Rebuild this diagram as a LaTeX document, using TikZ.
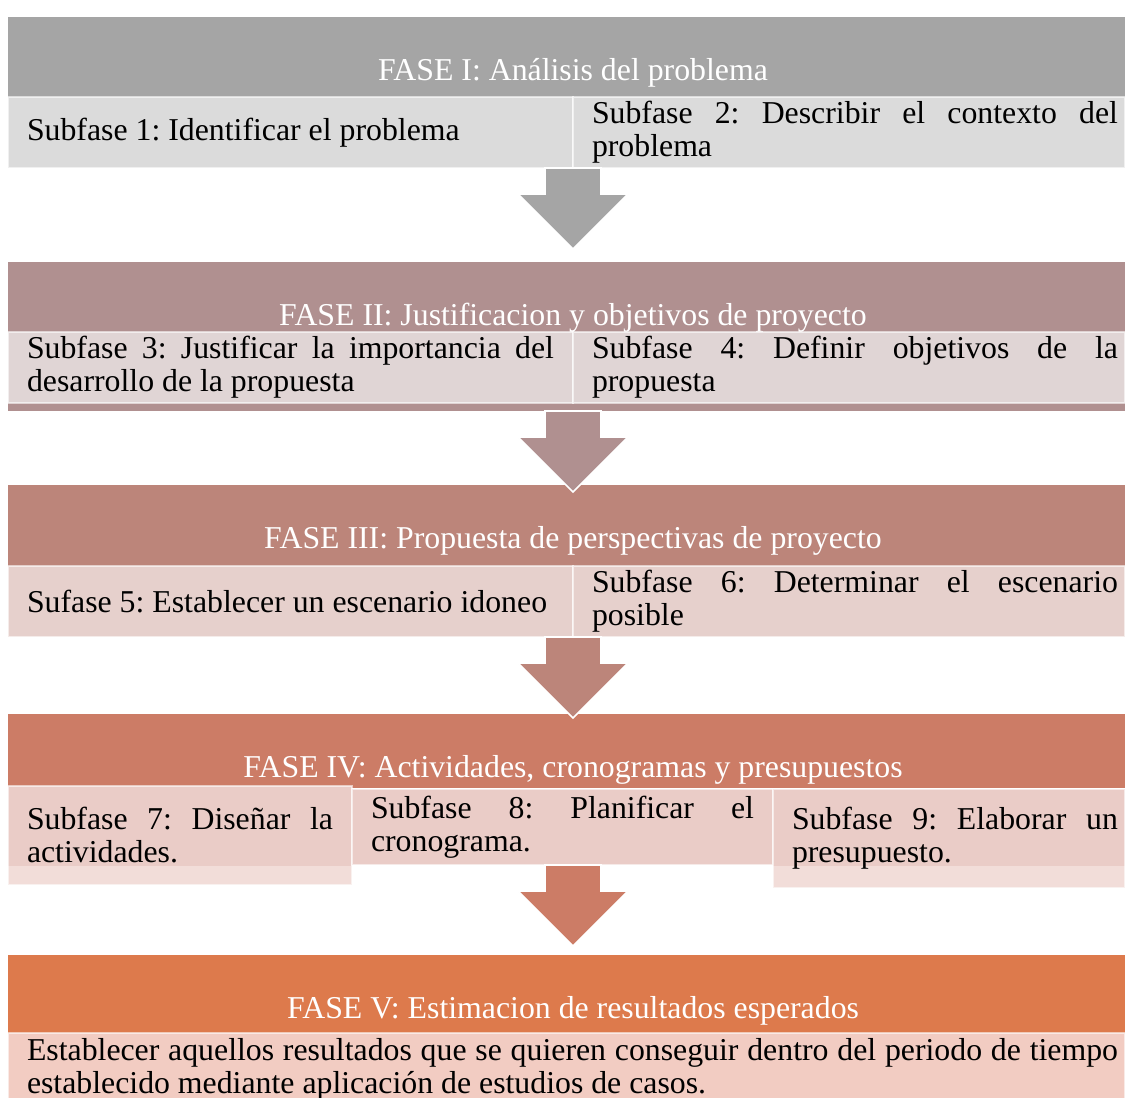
\documentclass[tikz,border=0pt]{standalone}
\usepackage{fontspec}
\setmainfont{Liberation Serif}
\usetikzlibrary{positioning,calc}
\definecolor{gris}{HTML}{A5A5A5}
\definecolor{grisclaro}{HTML}{DBDBDB}
\definecolor{malva}{HTML}{B09090}
\definecolor{malvaclaro}{HTML}{E0D5D5}
\definecolor{rosa}{HTML}{BC857A}
\definecolor{rosaclaro}{HTML}{E6D0CC}
\definecolor{teja}{HTML}{CC7C66}
\definecolor{tejaclaro}{HTML}{EACCC7}
\definecolor{tejapalido}{HTML}{F2DDD9}
\definecolor{naranja}{HTML}{DD7A4C}
\definecolor{naranjaclaro}{HTML}{F2CCC2}
\hyphenpenalty=10000
\exhyphenpenalty=10000
\frenchspacing
\newcommand{\flecha}[2]{%
  \filldraw[fill=#2, draw=white, line width=0.8pt] (#1) ++(-28,0) -- ++(56,0) -- ++(0,26) -- ++(27,0)
    -- ++(-55,55) -- ++(-55,-55) -- ++(27,0) -- cycle;}

\begin{document}
\begin{tikzpicture}[x=0.5pt, y=-0.5pt,
  every node/.style={font=\fontsize{15.9pt}{16.5pt}\selectfont},
  fase/.style={rectangle, fill=#1, minimum width=558.5pt, inner sep=0pt, outer sep=0pt},
  titulo/.style={text=white, anchor=base, inner sep=0pt},
  subfase/.style={rectangle, fill=#1, draw=white, draw opacity=0.6, line width=0.8pt,
    anchor=north west, align=justify, inner xsep=9.5pt, inner ysep=0pt, outer sep=0pt,
    minimum height=35.5pt},
  derecha/.style={inner xsep=3.5pt, execute at begin node={\leftskip=6pt\relax}},
  darktop/.style 2 args={path picture={\fill[#1] (path picture bounding box.north west)
    rectangle ([yshift=-#2]path picture bounding box.north east);}}]
  \useasboundingbox (0,0) rectangle (1125,1098);

  \node[fase=gris, minimum height=40pt] (fase1) at (566.5,57) {};
  \node[titulo] (tit1) at ($(fase1.north west)+(565,63)$) {FASE I: Análisis del problema};
  \node[subfase=grisclaro, text width=263.5pt, below right=0pt of fase1.south west] (sub1)
    {Subfase 1: Identificar el problema};
  \node[subfase=grisclaro, derecha, text width=269pt, right=0pt of sub1] (sub2)
    {Subfase 2: Describir el contexto del\linebreak problema};

  \node[fase=malva, minimum height=74.5pt] (fase2) at (566.5,336.5) {};
  \node[titulo] (tit2) at ($(fase2.north west)+(565,63)$) {FASE II: Justificacion y objetivos de proyecto};
  \node[subfase=malvaclaro, text width=263.5pt, below right=35pt and 0pt of fase2.north west] (sub3)
    {Subfase 3: Justificar la importancia del\linebreak desarrollo de la propuesta};
  \node[subfase=malvaclaro, derecha, text width=269pt, right=0pt of sub3] (sub4)
    {Subfase 4: Definir objetivos de la\linebreak propuesta};

  \node[fase=rosa, minimum height=40.5pt] (fase3) at (566.5,525.5) {};
  \node[titulo] (tit3) at ($(fase3.north west)+(565,63)$) {FASE III: Propuesta de perspectivas de proyecto};
  \node[subfase=rosaclaro, text width=263.5pt, below right=0pt of fase3.south west] (sub5)
    {Sufase 5: Establecer un escenario idoneo};
  \node[subfase=rosaclaro, derecha, text width=269pt, right=0pt of sub5] (sub6)
    {Subfase 6: Determinar el escenario\linebreak posible};

  \node[fase=teja, minimum height=37pt] (fase4) at (566.5,751) {};
  \node[titulo] (tit4) at ($(fase4.north west)+(565,63)$) {FASE IV: Actividades, cronogramas y presupuestos};
  \node[subfase=tejapalido, darktop={tejaclaro}{40pt}, text width=153pt, minimum height=49.5pt,
    below right=-1pt and 0pt of fase4.south west] (sub7)
    {Subfase 7: Diseñar la\linebreak actividades.};
  \node[subfase=tejaclaro, text width=191.5pt, minimum height=38pt,
    below right=1.5pt and 0pt of sub7.north east] (sub8)
    {Subfase 8: Planificar el\linebreak cronograma.};
  \node[subfase=tejapalido, darktop={tejaclaro}{38.5pt}, derecha, text width=169pt,
    minimum height=49.5pt, below right=0pt of sub8.north east] (sub9)
    {Subfase 9: Elaborar un\linebreak presupuesto.};

  \node[fase=naranja, minimum height=39pt] (fase5) at (566.5,994) {};
  \node[titulo] (tit5) at ($(fase5.north west)+(565,63)$) {FASE V: Estimacion de resultados esperados};
  \node[subfase=naranjaclaro, derecha, text width=551.5pt, minimum height=36pt,
    below right=0pt of fase5.south west] (sub10)
    {Establecer aquellos resultados que se quieren conseguir dentro del periodo de tiempo\linebreak
     establecido mediante aplicación de estudios de casos.};

  \flecha{sub1.south east}{gris}
  \flecha{fase2.south -| tit2.base}{malva}
  \flecha{sub5.south east}{rosa}
  \flecha{sub8.south -| tit4.base}{teja}
\end{tikzpicture}
\end{document}
